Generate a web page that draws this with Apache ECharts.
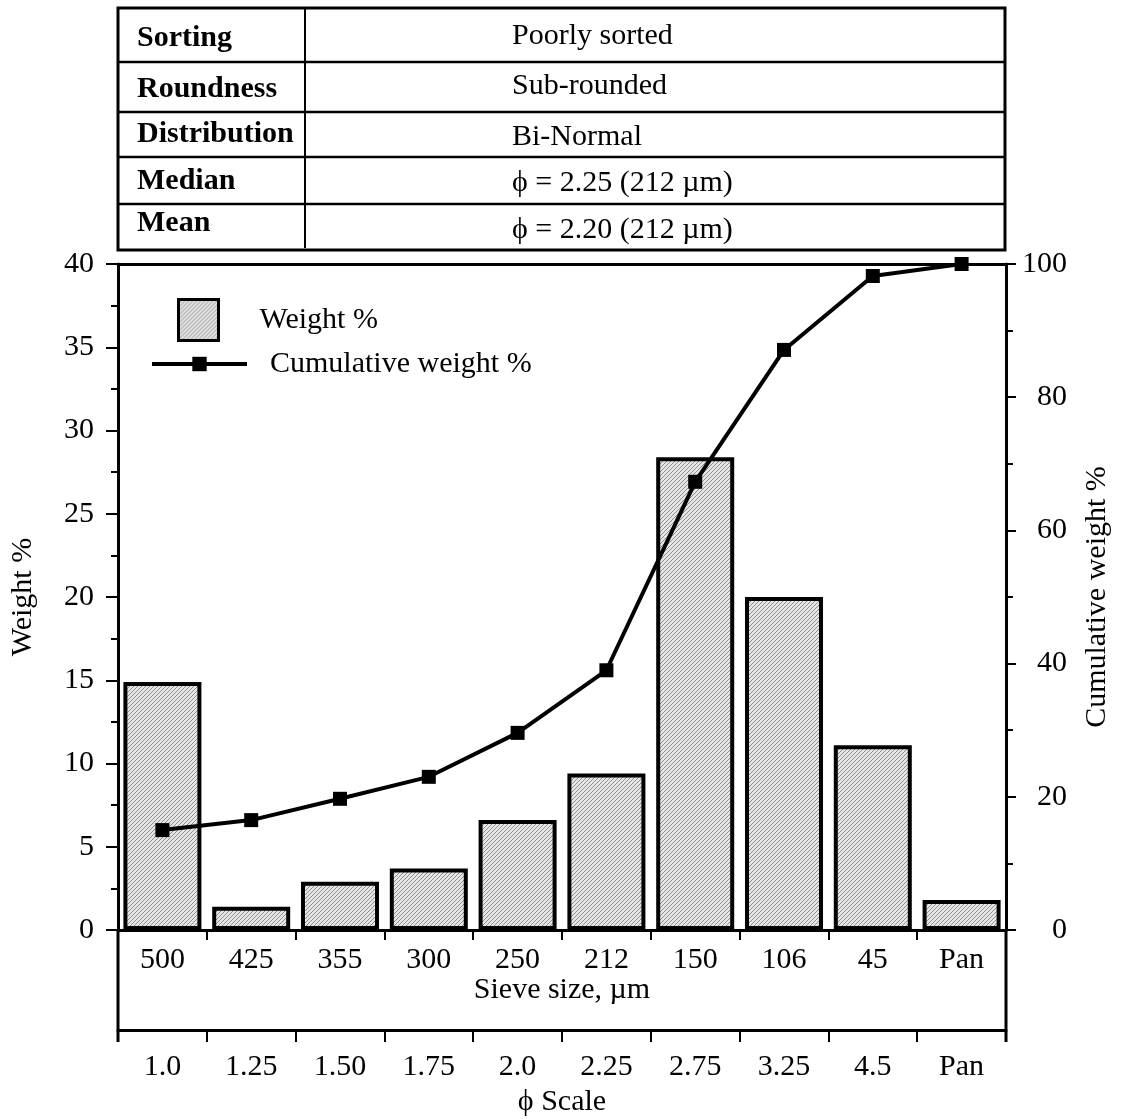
<!DOCTYPE html>
<html>
<head>
<meta charset="utf-8">
<script src="https://cdn.jsdelivr.net/npm/echarts@6/dist/echarts.min.js"></script>
<style>
  html, body { margin: 0; padding: 0; background: #fff; }
  #chart { width: 1121px; height: 1119px; }
</style>
</head>
<body>
<div id="chart"></div>
<script>
// 数据
var categories = ['500', '425', '355', '300', '250', '212', '150', '106', '45', 'Pan'];
var phiLabels = ['1.0', '1.25', '1.50', '1.75', '2.0', '2.25', '2.75', '3.25', '4.5', 'Pan'];
var weightPct = [14.9, 1.4, 2.9, 3.7, 6.6, 9.4, 28.4, 20.0, 11.1, 1.8];
var cumulativePct = [15.0, 16.5, 19.7, 23.0, 29.6, 39.0, 67.3, 87.1, 98.2, 100];
var tableLabels = ['Sorting', 'Roundness', 'Distribution', 'Median', 'Mean'];
var tableValues = ['Poorly sorted', 'Sub-rounded', 'Bi-Normal', 'ϕ = 2.25 (212 µm)', 'ϕ = 2.20 (212 µm)'];

var FONT = "'Liberation Serif', 'Times New Roman', serif";
var FS = 30;

// 网格位置
var gLeft = 118, gRight = 1006, gTop = 264, gBottom = 930;

// 斜线填充
function makeHatch() {
  var c = document.createElement('canvas');
  c.width = 4; c.height = 4;
  var ctx = c.getContext('2d');
  ctx.fillStyle = '#e6e6e6';
  ctx.fillRect(0, 0, 4, 4);
  ctx.fillStyle = '#8e8e8e';
  for (var i = 0; i < 4; i++) {
    ctx.fillRect(i, 3 - i, 1, 1);
  }
  return c;
}
var hatch = { image: makeHatch(), repeat: 'repeat' };

// 表格
var rowLines = [62, 112, 157, 204];
var labelY = [38, 89, 134, 181, 223];
var valueY = [36, 86, 137, 183, 230];
var tableGraphics = [
  { type: 'rect', shape: { x: 118, y: 8, width: 887, height: 242 }, style: { fill: 'none', stroke: '#000', lineWidth: 3 } },
  { type: 'line', shape: { x1: 305, y1: 8, x2: 305, y2: 248 }, style: { stroke: '#000', lineWidth: 2 } }
];
for (var i = 0; i < rowLines.length; i++) {
  tableGraphics.push({ type: 'line', shape: { x1: 118, y1: rowLines[i], x2: 1005, y2: rowLines[i] }, style: { stroke: '#000', lineWidth: 2.5 } });
}
for (var j = 0; j < tableLabels.length; j++) {
  tableGraphics.push({ type: 'text', x: 137, y: labelY[j], style: { text: tableLabels[j], fill: '#000', font: 'bold ' + FS + 'px ' + FONT, verticalAlign: 'middle', align: 'left' } });
  tableGraphics.push({ type: 'text', x: 512, y: valueY[j], style: { text: tableValues[j], fill: '#000', font: FS + 'px ' + FONT, verticalAlign: 'middle', align: 'left' } });
}
// 下方框的两侧竖线
tableGraphics.push({ type: 'line', shape: { x1: gLeft, y1: gBottom, x2: gLeft, y2: gBottom + 112 }, style: { stroke: '#000', lineWidth: 3 } });
tableGraphics.push({ type: 'line', shape: { x1: gRight, y1: gBottom, x2: gRight, y2: gBottom + 112 }, style: { stroke: '#000', lineWidth: 3 } });

var textStyle = { fontFamily: FONT, fontSize: FS, color: '#000' };

var chart = echarts.init(document.getElementById('chart'));
var option = {
  animation: false,
  backgroundColor: '#fff',
  textStyle: textStyle,
  grid: {
    left: gLeft,
    right: 1121 - gRight,
    top: gTop,
    bottom: 1119 - gBottom,
    containLabel: false,
    outerBoundsMode: 'none'
  },
  legend: [
    {
      data: ['Weight %'],
      left: 177,
      top: 298,
      padding: 0,
      icon: 'rect',
      itemWidth: 40,
      itemHeight: 41,
      itemStyle: { color: hatch, borderColor: '#000', borderWidth: 3 },
      textStyle: { fontFamily: FONT, fontSize: FS, color: '#000', padding: [0, 0, 0, 36] }
    },
    {
      data: ['Cumulative weight %'],
      left: 150,
      top: 349,
      padding: 0,
      itemWidth: 95,
      itemHeight: 18,
      lineStyle: { color: '#000', width: 4 },
      itemStyle: { color: '#000' },
      textStyle: { fontFamily: FONT, fontSize: FS, color: '#000', padding: [0, 0, 0, 18] }
    }
  ],
  xAxis: [
    {
      type: 'category',
      data: categories,
      position: 'bottom',
      axisLine: { onZero: false, lineStyle: { color: '#000', width: 3 } },
      axisTick: { show: true, length: 10, lineStyle: { color: '#000', width: 2 } },
      axisLabel: { margin: 15, fontFamily: FONT, fontSize: FS, color: '#000' },
      name: 'Sieve size, µm',
      nameLocation: 'middle',
      nameMoveOverlap: false,
      nameGap: 45,
      nameTextStyle: { fontFamily: FONT, fontSize: FS, color: '#000' }
    },
    {
      type: 'category',
      data: phiLabels,
      position: 'bottom',
      offset: 100,
      axisLine: { show: true, onZero: false, lineStyle: { color: '#000', width: 3 } },
      axisTick: { show: true, inside: false, length: 12, lineStyle: { color: '#000', width: 2 } },
      axisLabel: { margin: 22, fontFamily: FONT, fontSize: FS, color: '#000' },
      name: 'ϕ Scale',
      nameLocation: 'middle',
      nameMoveOverlap: false,
      nameGap: 57,
      nameTextStyle: { fontFamily: FONT, fontSize: FS, color: '#000' }
    },
    {
      type: 'category',
      data: categories,
      position: 'top',
      axisLine: { onZero: false, lineStyle: { color: '#000', width: 3 } },
      axisTick: { show: false },
      axisLabel: { show: false }
    }
  ],
  yAxis: [
    {
      type: 'value',
      min: 0,
      max: 40,
      interval: 5,
      position: 'left',
      axisLine: { show: true, onZero: false, lineStyle: { color: '#000', width: 3 } },
      axisTick: { show: true, length: 12, lineStyle: { color: '#000', width: 2 } },
      minorTick: { show: true, splitNumber: 2, length: 7, lineStyle: { color: '#000', width: 2 } },
      splitLine: { show: false },
      axisLabel: { margin: 24, fontFamily: FONT, fontSize: FS, color: '#000' },
      name: 'Weight %',
      nameLocation: 'middle',
      nameMoveOverlap: false,
      nameRotate: 90,
      nameGap: 80,
      nameTextStyle: { fontFamily: FONT, fontSize: FS, color: '#000' }
    },
    {
      type: 'value',
      min: 0,
      max: 100,
      interval: 20,
      position: 'right',
      axisLine: { show: true, onZero: false, lineStyle: { color: '#000', width: 3 } },
      axisTick: { show: true, length: 10, lineStyle: { color: '#000', width: 2 } },
      minorTick: { show: true, splitNumber: 2, length: 7, lineStyle: { color: '#000', width: 2 } },
      splitLine: { show: false },
      axisLabel: { margin: 61, align: 'right', fontFamily: FONT, fontSize: FS, color: '#000' },
      name: 'Cumulative weight %',
      nameLocation: 'middle',
      nameMoveOverlap: false,
      nameRotate: 90,
      nameGap: 76,
      nameTextStyle: { fontFamily: FONT, fontSize: FS, color: '#000' }
    }
  ],
  graphic: tableGraphics,
  series: [
    {
      name: 'Weight %',
      type: 'bar',
      xAxisIndex: 0,
      yAxisIndex: 0,
      data: weightPct,
      barWidth: 78,
      itemStyle: { color: hatch, borderColor: '#000', borderWidth: 4 }
    },
    {
      name: 'Cumulative weight %',
      type: 'line',
      xAxisIndex: 0,
      yAxisIndex: 1,
      data: cumulativePct,
      symbol: 'rect',
      symbolSize: 14,
      lineStyle: { color: '#000', width: 4 },
      itemStyle: { color: '#000' }
    }
  ]
};
chart.setOption(option);
</script>
</body>
</html>
